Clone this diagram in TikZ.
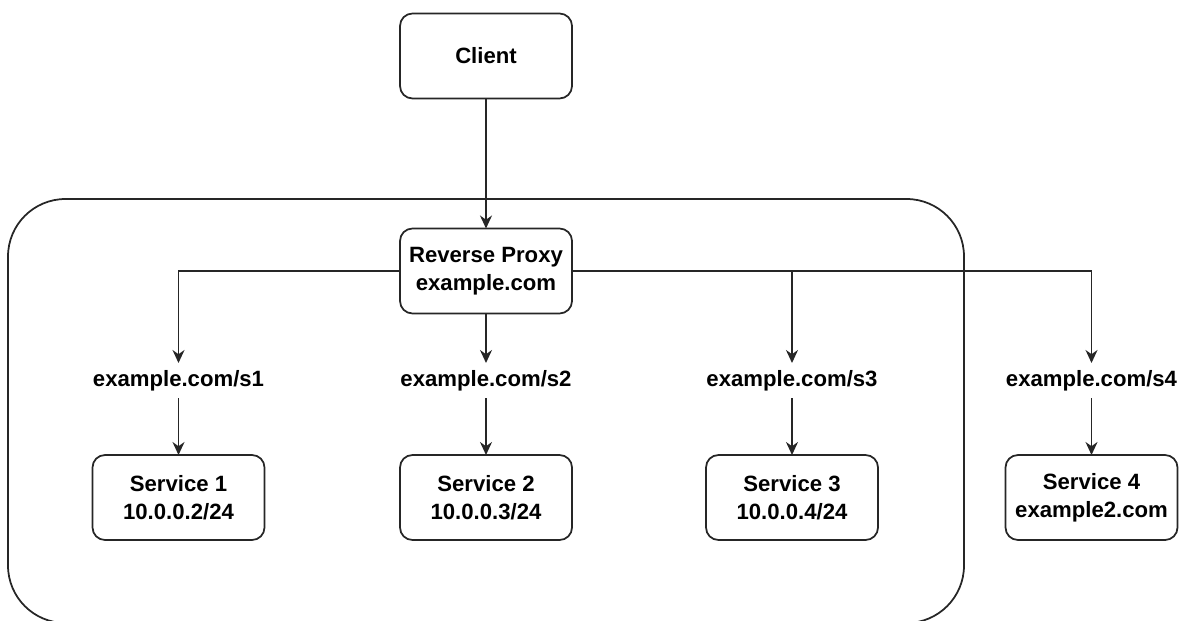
\documentclass[tikz,border=0pt]{standalone}
\usepackage{fontspec}
\setmainfont{Liberation Sans}
\usetikzlibrary{arrows.meta,positioning}

\begin{document}
\begin{tikzpicture}

      \tikzstyle{box}=[rectangle,rounded corners=0.25cm,draw=black!85,
        line width=1pt,minimum width=3.44cm,minimum height=1.7cm,
        inner sep=2pt,outer sep=0pt,align=center,
        font=\fontsize{12.6}{16}\selectfont\bfseries]
      \tikzstyle{url}=[inner sep=0pt,outer sep=0pt,minimum height=0.7cm,
        font=\fontsize{12.6}{16}\selectfont\bfseries]
      \tikzstyle{link}=[line width=1pt,black!85,
        -{Stealth[length=0.26cm,width=0.24cm]}]

      \useasboundingbox (0,0) rectangle (23.62,-12.42);

      % the private network
      \draw [line width=1pt,black!85,rounded corners=1.15cm]
      (0.16,-3.98) rectangle (19.28,-12.46);

      \node(Client)[box] at (9.72,-1.12){Client};
      \node(Proxy)[box,below=2.6cm of Client]{Reverse Proxy\\example.com};

      \node(Url1)[url] at (3.57,-7.61){example.com/s1};
      \node(Url2)[url,below=0.99cm of Proxy]{example.com/s2};
      \node(Url3)[url] at (15.84,-7.61){example.com/s3};
      \node(Url4)[url] at (21.83,-7.61){example.com/s4};

      \node(Service1)[box,below=1.14cm of Url1]{Service 1\\10.0.0.2/24};
      \node(Service2)[box,below=1.14cm of Url2]{Service 2\\10.0.0.3/24};
      \node(Service3)[box,below=1.14cm of Url3]{Service 3\\10.0.0.4/24};
      \node(Service4)[box,below=1.14cm of Url4]{Service 4\\example2.com};

      \draw [link] (Client)--(Proxy);

      \draw [link] (Proxy.west) -| (Url1.north);
      \draw [link] (Proxy)--(Url2);
      \draw [link] (Proxy.east) -| (Url3.north);
      \draw [link] (Proxy.east) -| (Url4.north);

      \draw [link] (Url1)--(Service1);
      \draw [link] (Url2)--(Service2);
      \draw [link] (Url3)--(Service3);
      \draw [link] (Url4)--(Service4);

    \end{tikzpicture}
\end{document}
